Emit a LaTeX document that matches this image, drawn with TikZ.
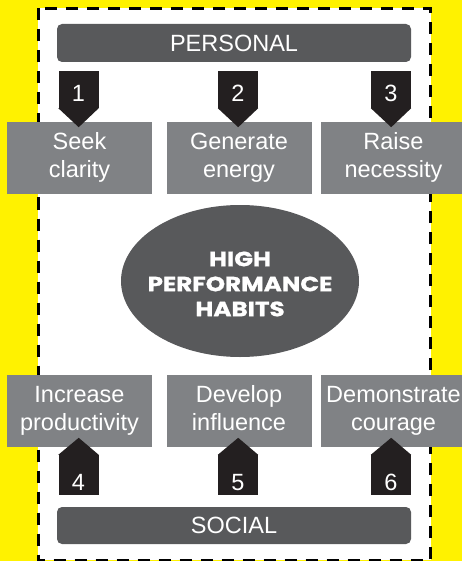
\documentclass[tikz,border=0pt]{standalone}
\usepackage{fontspec}
\setmainfont{Liberation Sans}
\newfontfamily\habitfont[FakeStretch=1.2,BoldFeatures={FakeBold=1.2}]{Poppins}
\definecolor{hpyellow}{RGB}{255,242,0}
\definecolor{hpdark}{RGB}{88,89,91}
\definecolor{hpgrey}{RGB}{128,130,133}
\definecolor{hpblack}{RGB}{35,31,32}
\usetikzlibrary{shapes.geometric}

\begin{document}
\begin{tikzpicture}[x=1pt,y=-1pt,
  bar/.style={fill=hpdark,rounded corners=5pt,minimum width=354pt,inner sep=0pt,text=white,font=\fontsize{23.5}{28}\selectfont},
  habit/.style={fill=hpgrey,minimum width=145pt,minimum height=72pt,text width=145pt,inner sep=0pt,align=center,text=white,font=\fontsize{23.5}{28}\selectfont,execute at begin node=\strut,execute at end node=\strut},
  tag/.style={fill=hpblack,minimum width=40pt,inner sep=0pt,text=white,font=\fontsize{23.5}{28}\selectfont}]
\useasboundingbox (0,0) rectangle (462,561);
\fill[hpyellow] (0,0) rectangle (462,561);
\draw[fill=white,line width=3pt,dash pattern=on 12pt off 9pt] (38,8.5) rectangle (430.5,560);
% the two bands
\node[bar,minimum height=38pt] (personal) at (234,43) {PERSONAL};
\node[bar,minimum height=37pt] (social) at (234,525.5) {SOCIAL};
% habit boxes
\node[habit] (clarity) at (79.5,158) {Seek\\clarity};
\node[habit] (energy) at (239,158) {Generate\\energy};
\node[habit] (necessity) at (393.5,158) {Raise\\necessity};
\node[habit] (productivity) at (79.5,410.5) {Increase\\productivity};
\node[habit] (influence) at (239,410.5) {Develop\\influence};
\node[habit] (courage) at (393.5,410.5) {Demonstrate\\courage};
% centre
\node[ellipse,fill=hpdark,minimum width=238pt,minimum height=152pt] (core) at (240,281) {};
\node[text=white,align=center,inner sep=0pt,font=\habitfont\bfseries\fontsize{20.5}{25}\selectfont] (title) at (240,284) {HIGH\\PERFORMANCE\\HABITS};
% numbered tags
\node[tag,minimum height=37pt,text height=24pt,text depth=0pt] (t1) at (78.5,89.5) {1};
\node[tag,minimum height=37pt,text height=24pt,text depth=0pt] (t2) at (238,89.5) {2};
\node[tag,minimum height=37pt,text height=24pt,text depth=0pt] (t3) at (391,89.5) {3};
\node[tag,minimum height=40pt,text height=30pt,text depth=0pt] (t4) at (78.5,475) {4};
\node[tag,minimum height=40pt,text height=30pt,text depth=0pt] (t5) at (238,475) {5};
\node[tag,minimum height=40pt,text height=30pt,text depth=0pt] (t6) at (391,475) {6};
\foreach \t in {t1,t2,t3}{
  \fill[hpblack] (\t.south west) -- (\t.south east) -- ++(-20,19) -- cycle;}
\foreach \t in {t4,t5,t6}{
  \fill[hpblack] (\t.north west) -- (\t.north east) -- ++(-20,-17) -- cycle;}
\end{tikzpicture}
\end{document}
